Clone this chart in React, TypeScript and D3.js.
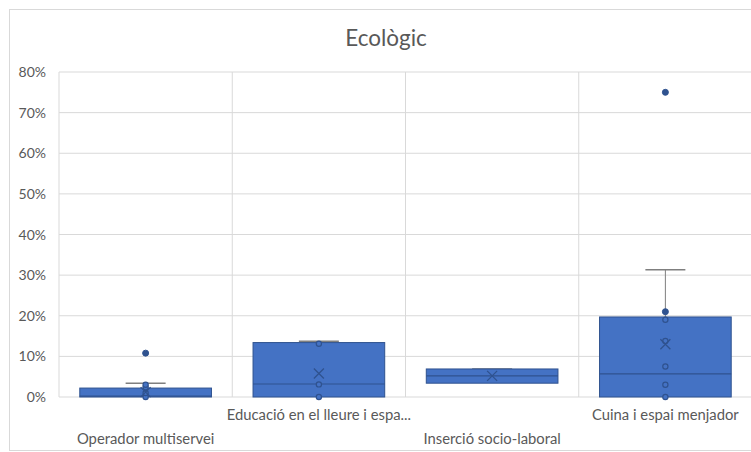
import React from "react";
import * as d3 from "d3";

const categories = [
  "Operador multiservei",
  "Educació en el lleure i espa...",
  "Inserció socio-laboral",
  "Cuina i espai menjador",
];
const q1 = [0, 0, 0.034, 0];
const median = [0.002, 0.032, 0.052, 0.057];
const q3 = [0.022, 0.134, 0.069, 0.197];
const whiskerMin = [0, 0, 0.034, 0];
const whiskerMax = [0.034, 0.137, 0.069, 0.313];
const means = [0.012, 0.058, 0.052, 0.13];
const innerPoints = [
  [0, 0.01, 0.024, 0.03],
  [0, 0.031, 0.131],
  [],
  [0, 0.03, 0.075, 0.138, 0.19],
];
const outliers = [[0.108], [], [], [0.75, 0.21]];
const yTicks = [0, 0.1, 0.2, 0.3, 0.4, 0.5, 0.6, 0.7, 0.8];

const W = 751;
const H = 452;
const FONT = "Lato, 'Open Sans', sans-serif";
const TEXT = "#595959";
const GRID = "#d9d9d9";
const BOX = "#4472C4";
const EDGE = "#2F528F";

export default function App() {
  const y = d3.scaleLinear().domain([0, 0.8]).range([397, 72]);
  const x = d3.scaleBand<string>().domain(categories).range([59, 752]).padding(0);
  const bw = x.bandwidth();
  const boxW = bw * 0.76;
  const fmt = d3.format(".0%");

  return (
    <svg width={W} height={H} style={{ position: "absolute", left: 0, top: 0 }}>
      <rect x={9.5} y={9.5} width={W} height={H - 11} fill="#fff" stroke={GRID} />
      <text x={386} y={46} textAnchor="middle" fontFamily={FONT} fontSize={22.5} fill={TEXT}>
        Ecològic
      </text>
      {yTicks.map((t) => (
        <g key={t}>
          <line x1={59} x2={752} y1={y(t)} y2={y(t)} stroke={GRID} strokeWidth={1} />
          <text x={46} y={y(t) + 5} textAnchor="end" fontFamily={FONT} fontSize={14} fill={TEXT}>
            {fmt(t)}
          </text>
        </g>
      ))}
      {categories.map((c, i) => (
        <line key={"v" + i} x1={x(c)!} x2={x(c)!} y1={72} y2={397} stroke={GRID} />
      ))}
      {categories.map((c, i) => {
        const cx = x(c)! + bw / 2;
        const x0 = cx - boxW / 2;
        return (
          <g key={c}>
            <line x1={cx} x2={cx} y1={y(q3[i])} y2={y(whiskerMax[i])} stroke="#7f7f7f" />
            <line x1={cx - 20} x2={cx + 20} y1={y(whiskerMax[i])} y2={y(whiskerMax[i])} stroke="#7f7f7f" strokeWidth={1.5} />
            <line x1={cx} x2={cx} y1={y(q1[i])} y2={y(whiskerMin[i])} stroke="#7f7f7f" />
            <rect
              x={x0}
              y={y(q3[i])}
              width={boxW}
              height={Math.max(0, y(q1[i]) - y(q3[i]))}
              fill={BOX}
              stroke={EDGE}
              strokeWidth={1}
            />
            <line x1={x0} x2={x0 + boxW} y1={y(median[i])} y2={y(median[i])} stroke={EDGE} strokeWidth={1.2} />
            {innerPoints[i].map((p, j) => (
              <circle key={j} cx={cx} cy={y(p)} r={2.6} fill={BOX} stroke={EDGE} strokeWidth={1.2} />
            ))}
            {outliers[i].map((p, j) => (
              <circle key={"o" + j} cx={cx} cy={y(p)} r={3} fill={EDGE} stroke={EDGE} />
            ))}
            <path
              d={`M${cx - 5},${y(means[i]) - 5}L${cx + 5},${y(means[i]) + 5}M${cx + 5},${y(means[i]) - 5}L${cx - 5},${y(means[i]) + 5}`}
              stroke={EDGE}
              strokeWidth={1.3}
            />
            <text
              x={cx}
              y={i % 2 === 0 ? 444 : 420}
              textAnchor="middle"
              fontFamily={FONT}
              fontSize={14.8}
              fill={TEXT}
            >
              {c}
            </text>
          </g>
        );
      })}
    </svg>
  );
}
